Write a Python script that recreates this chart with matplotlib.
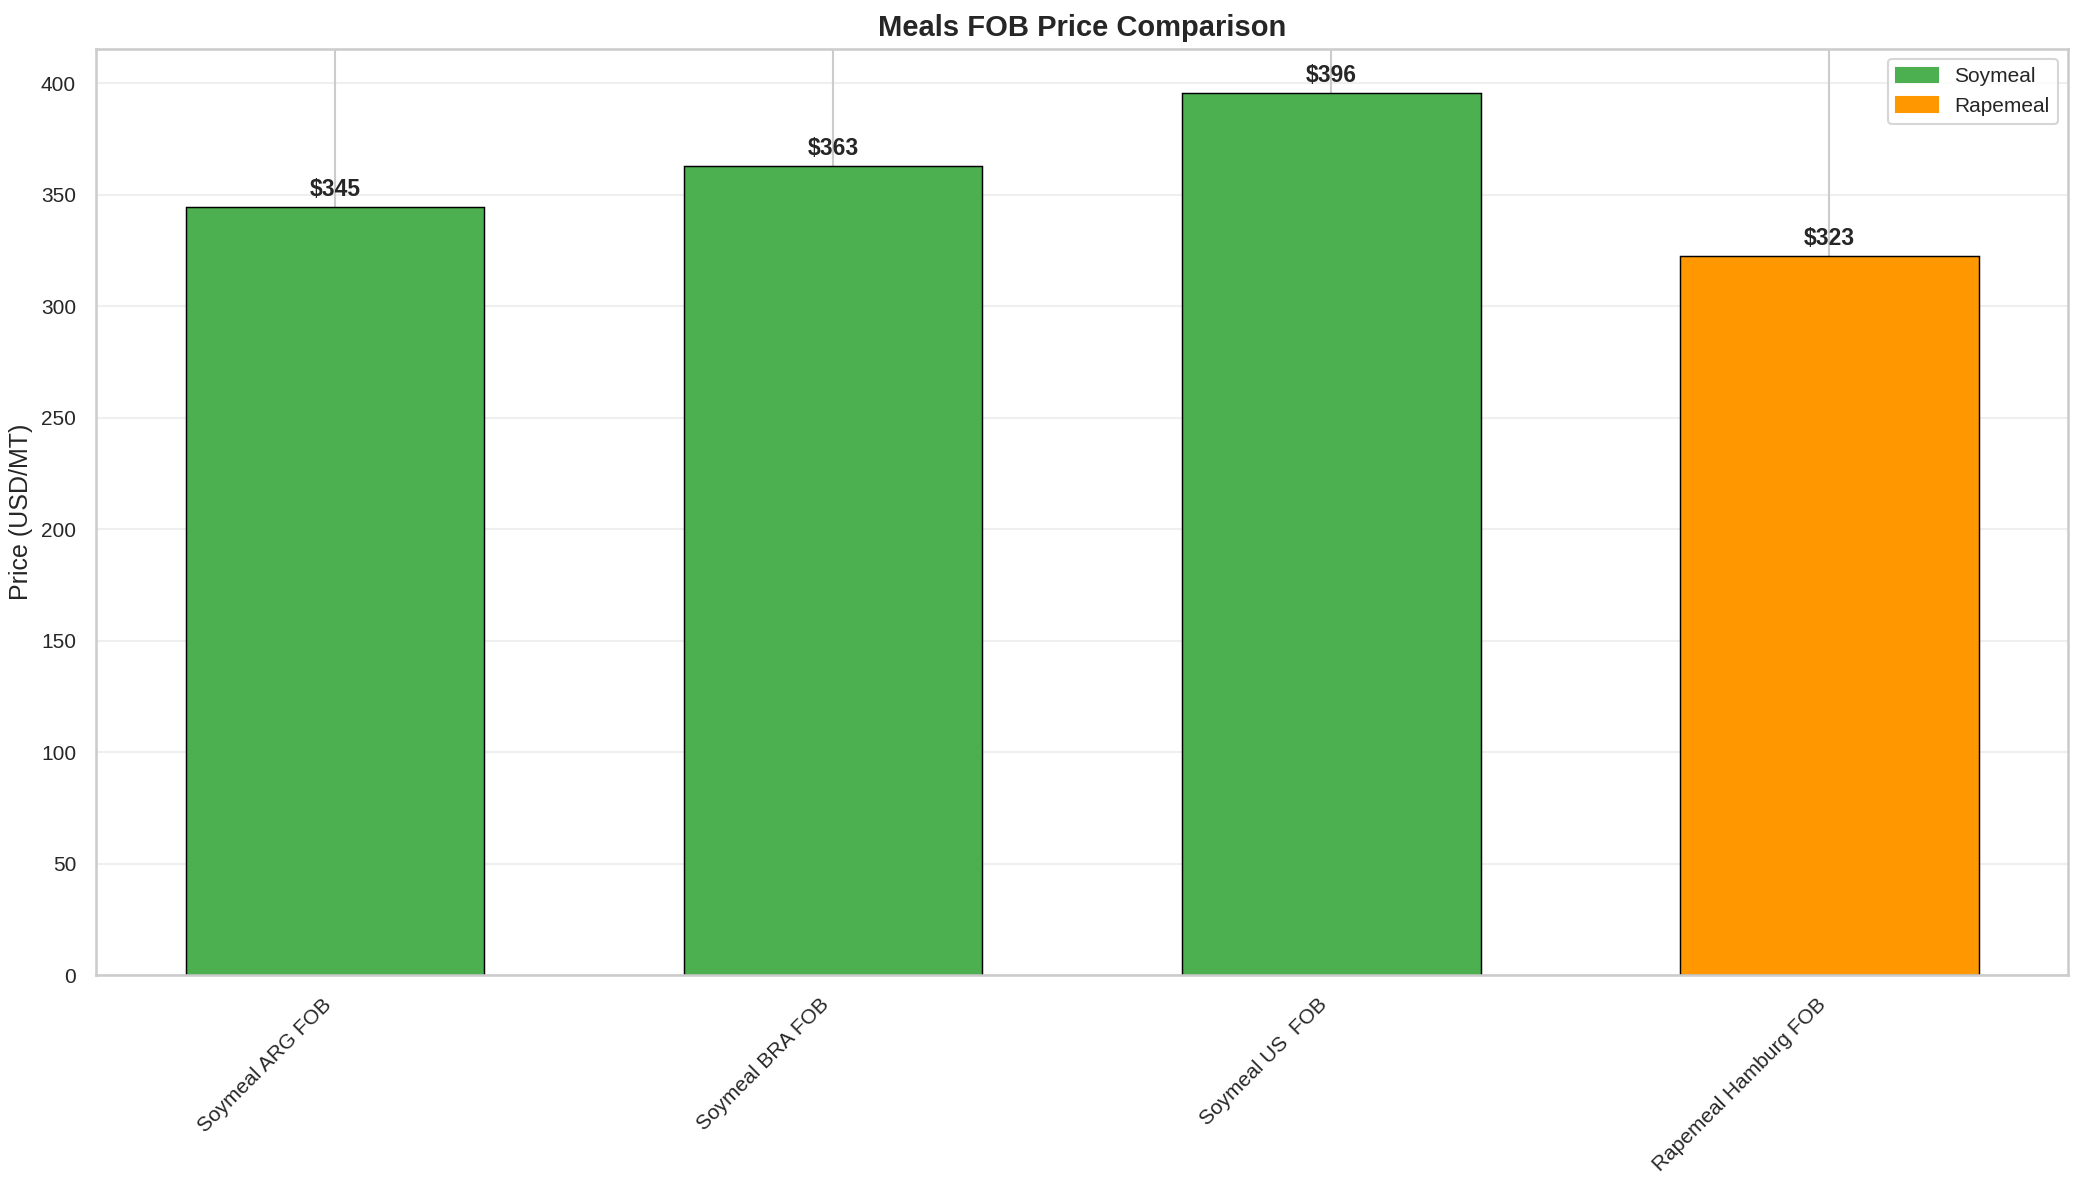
import matplotlib
matplotlib.use("Agg")
import matplotlib.pyplot as plt
import seaborn as sns
from matplotlib.patches import Patch

categories = ["Soymeal ARG FOB", "Soymeal BRA FOB", "Soymeal US  FOB", "Rapemeal Hamburg FOB"]
prices = [344.6, 362.9, 395.8, 322.6]
groups = ["Soymeal", "Soymeal", "Soymeal", "Rapemeal"]
group_colors = {"Soymeal": "#4CAF50", "Rapemeal": "#FF9800"}

sns.set_theme(style="whitegrid")
plt.rcParams['font.family'] = ['Liberation Sans', 'DejaVu Sans']

fig, ax = plt.subplots(figsize=(13.9, 7.9), dpi=150)
x = range(len(categories))
colors = [group_colors[g] for g in groups]
bars = ax.bar(x, prices, width=0.6, color=colors, edgecolor="black", linewidth=0.7)

for xi, v in zip(x, prices):
    ax.text(xi, v + 2.5, f"${v:.0f}", ha="center", va="bottom", fontsize=11, fontweight="bold")

ax.set_xticks(list(x))
ax.set_xticklabels(categories, rotation=45, ha="right", fontsize=10)
ax.tick_params(axis="y", labelsize=10)
ax.set_ylabel("Price (USD/MT)", fontsize=12)
ax.set_title("Meals FOB Price Comparison", fontsize=14, fontweight="bold")
ax.set_ylim(0, max(prices) * 1.05)
ax.grid(axis="y", alpha=0.3)

handles = [Patch(color=group_colors[g], label=g) for g in ["Soymeal", "Rapemeal"]]
ax.legend(handles=handles, loc="upper right", fontsize=10)

fig.subplots_adjust(left=0.046, right=0.992, top=0.959, bottom=0.177)
fig.savefig("out.png", dpi=150)
